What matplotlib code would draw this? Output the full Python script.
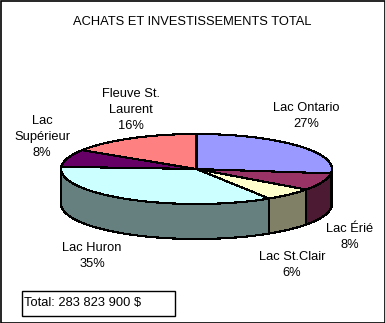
import numpy as np
import matplotlib
matplotlib.use("Agg")
import matplotlib.pyplot as plt
from matplotlib.patches import Polygon, Rectangle

plt.rcParams['font.family'] = ['Liberation Sans', 'DejaVu Sans']

title = "ACHATS ET INVESTISSEMENTS TOTAL"
labels = ["Lac Ontario", "Lac Érié", "Lac St.Clair", "Lac Huron", "Lac\nSupérieur", "Fleuve St.\nLaurent"]
shares = [27, 8, 6, 35, 8, 16]
colors = ["#9999FF", "#993366", "#FFFFCC", "#CCFFFF", "#660066", "#FF8080"]
total_text = "Total: 283 823 900 $"

# label anchor positions (pixels)
label_xy = [(306, 116), (350, 237), (292, 265), (92, 256), (42, 137), (131, 110)]

W, H = 385, 323
cx, cy, rx, ry, depth = 196.5, 169, 135.5, 35, 35

fig = plt.figure(figsize=(W / 100, H / 100), dpi=100)
ax = fig.add_axes([0, 0, 1, 1])
ax.set_xlim(0, W)
ax.set_ylim(H, 0)
ax.axis("off")


def pt(t, dy=0):
    return cx + rx * np.cos(t), cy - ry * np.sin(t) + dy


def darker(c):
    r, g, b = matplotlib.colors.to_rgb(c)
    return (r * 0.5, g * 0.5, b * 0.5)


fracs = np.array(shares, dtype=float) / sum(shares)
bounds = np.pi / 2 - 2 * np.pi * np.concatenate([[0], np.cumsum(fracs)])

# sides (front half only: angles between -pi and 0)
for i in range(len(shares)):
    a0, a1 = bounds[i + 1], bounds[i]
    for k in (0, -2 * np.pi):
        lo, hi = max(a0 - k, -np.pi), min(a1 - k, 0)
        if hi <= lo:
            continue
        t = np.linspace(lo, hi, 60)
        top = [pt(v) for v in t]
        bot = [pt(v, depth) for v in t[::-1]]
        ax.add_patch(Polygon(top + bot, closed=True, facecolor=darker(colors[i]),
                             edgecolor="black", lw=0.8, antialiased=False))

# top faces
for i in range(len(shares)):
    t = np.linspace(bounds[i], bounds[i + 1], 100)
    verts = [(cx, cy)] + [pt(v) for v in t]
    ax.add_patch(Polygon(verts, closed=True, facecolor=colors[i],
                         edgecolor="black", lw=0.8, antialiased=False))

for lab, s, (x, y) in zip(labels, shares, label_xy):
    ax.text(x, y, f"{lab}\n{s}%", ha="center", va="center", fontsize=9.3, linespacing=1.45)

ax.text(192, 22, title, ha="center", va="center", fontsize=9.3)

ax.add_patch(Rectangle((21.5, 290.5), 153, 25, facecolor="white", edgecolor="black", lw=1))
ax.text(24, 303, total_text, ha="left", va="center", fontsize=9.3)

ax.add_patch(Rectangle((0.5, 0.5), W - 1, H - 1, fill=False, edgecolor="black", lw=1.2))

fig.savefig("out.png", dpi=100)
